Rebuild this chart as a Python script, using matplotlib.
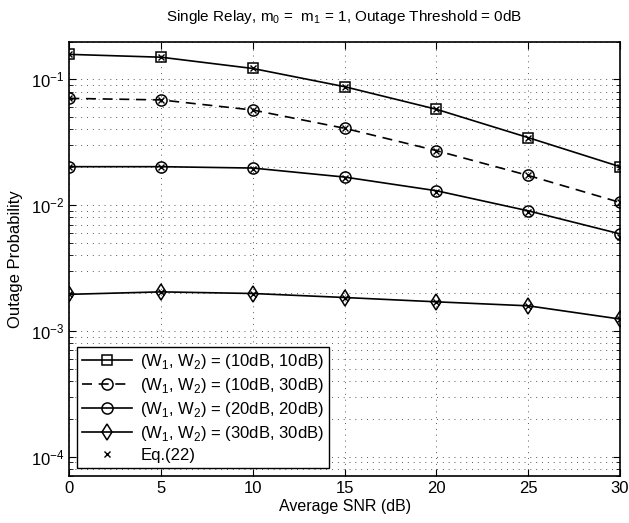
import numpy as np
import matplotlib
matplotlib.use("Agg")
import matplotlib.pyplot as plt
from matplotlib.ticker import LogLocator, NullFormatter

plt.rcParams['font.family'] = ['Liberation Sans', 'DejaVu Sans']
plt.rcParams['mathtext.fontset'] = 'custom'
plt.rcParams['mathtext.rm'] = 'Liberation Sans'

snr = [0, 5, 10, 15, 20, 25, 30]
p_10_10 = [0.158, 0.150, 0.122, 0.0874, 0.0578, 0.0344, 0.0202]
p_10_30 = [0.0706, 0.0686, 0.0570, 0.0408, 0.0271, 0.0172, 0.0105]
p_20_20 = [0.0202, 0.0202, 0.0197, 0.0167, 0.0130, 0.0090, 0.0059]
p_30_30 = [0.00195, 0.00204, 0.00198, 0.00184, 0.00170, 0.00158, 0.00124]
eq22 = [p_10_10, p_10_30, [0.0202, 0.0202, 0.0195, 0.0165, 0.0128, 0.0088, 0.0056], p_30_30]

fig = plt.figure(figsize=(6.29, 5.23), dpi=100)
ax = fig.add_axes([69.3 / 629, 47 / 523, 550.7 / 629, 434.5 / 523])

kw = dict(color='k', lw=1.2, mfc='none', mec='k', mew=1.1)
ax.semilogy(snr, p_10_10, '-', marker='s', ms=6.5, label='(W$_1$, W$_2$) = (10dB, 10dB)', **kw)
ax.semilogy(snr, p_10_30, '--', marker='o', ms=8, dashes=(6, 4), label='(W$_1$, W$_2$) = (10dB, 30dB)', **kw)
ax.semilogy(snr, p_20_20, '-', marker='o', ms=8, label='(W$_1$, W$_2$) = (20dB, 20dB)', **kw)
ax.semilogy(snr, p_30_30, '-', marker='d', ms=8, label='(W$_1$, W$_2$) = (30dB, 30dB)', **kw)
for i, vals in enumerate(eq22):
    ax.semilogy(snr, vals, 'x', color='k', ms=5, mew=1.0,
                label='Eq.(22)' if i == 0 else None)

ax.set_xlim(0, 30)
ax.set_ylim(7e-5, 0.2)
ax.set_xticks(snr)
ax.yaxis.set_major_locator(LogLocator(base=10, numticks=10))
ax.yaxis.set_minor_locator(LogLocator(base=10, subs=np.arange(2, 10), numticks=20))
ax.yaxis.set_minor_formatter(NullFormatter())

ax.grid(True, which='major', ls=(0, (1, 5)), color='0.35', lw=0.7)
ax.grid(True, which='minor', axis='y', ls=(0, (1, 5)), color='0.35', lw=0.7)
ax.tick_params(which='both', direction='in', top=True, right=True, labelsize=12)
ax.tick_params(which='major', length=5)
ax.tick_params(which='minor', length=3)
for s in ax.spines.values():
    s.set_linewidth(1.2)

ax.set_xlabel('Average SNR (dB)', fontsize=11.5, labelpad=2)
ax.set_ylabel('Outage Probability', fontsize=12, labelpad=6)
ax.set_title('Single Relay, m$_0$ =  m$_1$ = 1, Outage Threshold = 0dB', fontsize=11, pad=15)

leg = ax.legend(loc='lower left', bbox_to_anchor=(0.014, 0.018), fontsize=12,
                handlelength=3.0, frameon=True, fancybox=False, edgecolor='k',
                borderaxespad=0, labelspacing=0.3, borderpad=0.3, handletextpad=0.5)
leg.get_frame().set_linewidth(1.0)
leg.get_frame().set_alpha(1)

fig.savefig('out.png', dpi=100)
